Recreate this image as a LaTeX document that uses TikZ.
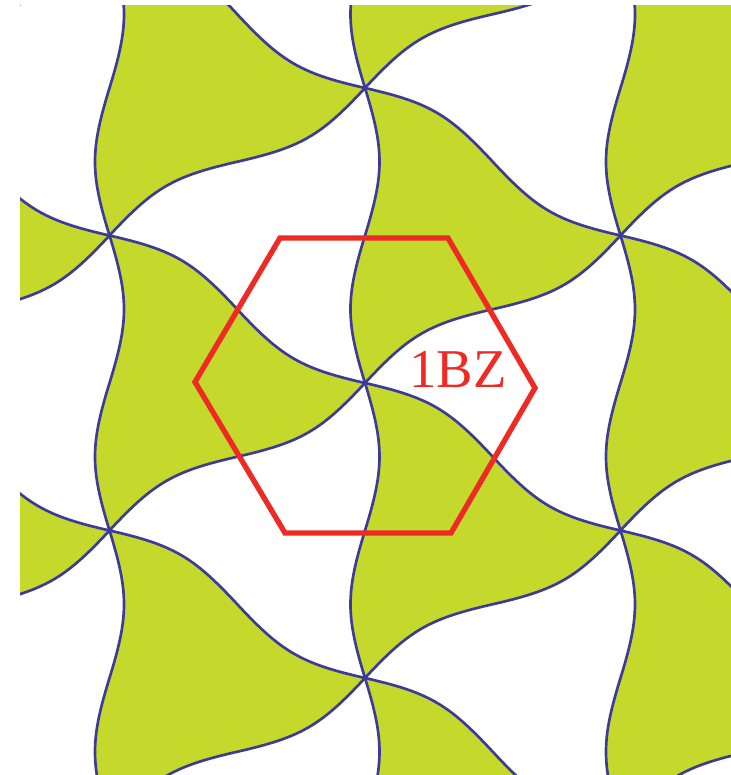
\documentclass[tikz,border=0pt]{standalone}
\usepackage{fontspec}
\setmainfont{Liberation Serif}
\usetikzlibrary{calc}
\definecolor{fsgreen}{RGB}{197,216,44}
\definecolor{fsblue}{RGB}{60,60,152}
\definecolor{bzred}{RGB}{238,42,36}
\tikzset{
  wavy/.style={to path={
    .. controls ($(\tikztostart)!0.2122!(\tikztotarget)!14.5pt!90:(\tikztotarget)$)
    and ($(\tikztostart)!0.2878!(\tikztotarget)!14.5pt!90:(\tikztotarget)$)
    .. ($(\tikztostart)!0.5!(\tikztotarget)$)
    .. controls ($(\tikztostart)!0.7122!(\tikztotarget)!14.5pt!-90:(\tikztotarget)$)
    and ($(\tikztostart)!0.7878!(\tikztotarget)!14.5pt!-90:(\tikztotarget)$)
    .. (\tikztotarget)}},
  fsline/.style={draw=fsblue, line width=2pt},
  bzhex/.style={draw=bzred, line width=4pt, line join=miter},
}
\begin{document}
\begin{tikzpicture}[x=0.75pt,y=0.75pt]
\useasboundingbox (0,0) rectangle (731,775);
\def\W{255.5}\def\La{295}
\begin{scope}
  \clip (20,0) rectangle (731,769);
  % green curved triangles
  \foreach \i in {-2,...,2}{
    \foreach \j in {-3,...,3}{
      \pgfmathsetmacro\px{365+\i*\W}
      \pgfmathsetmacro\py{392+\i*\La/2+\j*\La}
      \coordinate (p) at (\px,\py);
      \coordinate (ua) at (\px-\W,\py+\La/2);
      \coordinate (lb) at (\px-\W,\py-\La/2);
      \fill[fsgreen] (p) to[wavy] (ua) to[wavy] (lb) to[wavy] (p) -- cycle;
    }
  }
  % wavy lines
  \foreach \i in {-2,...,2}{
    \foreach \j in {-3,...,3}{
      \pgfmathsetmacro\px{365+\i*\W}
      \pgfmathsetmacro\py{392+\i*\La/2+\j*\La}
      \coordinate (q) at (\px,\py);
      \coordinate (n1) at (\px,\py+\La);
      \coordinate (n2) at (\px+\W,\py+\La/2);
      \coordinate (n3) at (\px+\W,\py-\La/2);
      \path[fsline] (q) to[wavy] (n1) (q) to[wavy] (n2) (q) to[wavy] (n3);
    }
  }
\end{scope}
% first Brillouin zone
\coordinate (h1) at (280,537);
\coordinate (h2) at (448,537);
\coordinate (h3) at (535,387);
\coordinate (h4) at (451,242);
\coordinate (h5) at (285,242);
\coordinate (h6) at (195,393);
\path[bzhex] (h1) -- (h2) -- (h3) -- (h4) -- (h5) -- (h6) -- cycle;
\node[text=bzred, font=\fontsize{41}{41}\selectfont, anchor=base, inner sep=0pt] (bz) at (458,387) {1BZ};
\end{tikzpicture}
\end{document}
